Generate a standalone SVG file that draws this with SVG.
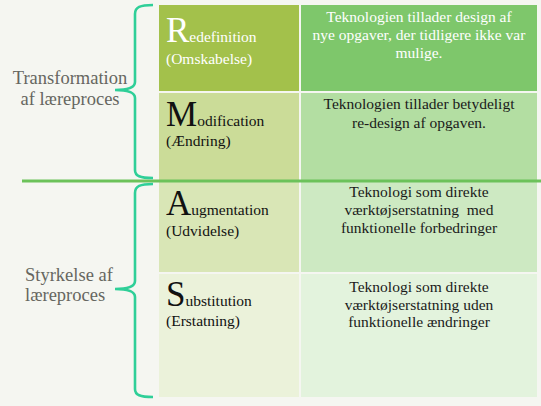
<svg xmlns="http://www.w3.org/2000/svg" width="541" height="406" viewBox="0 0 541 406">
<style>
text{font-family:'Liberation Serif','DejaVu Serif','Times New Roman',Times,serif}
.lbl{font-size:18.5px;fill:#666660}
.big{font-size:35px}
.sm{font-size:15.5px}
.desc{font-size:15.5px;text-anchor:middle;fill:#1a1a1a}
.brace{fill:none;stroke:#2fcf98;stroke-width:2.6}
</style>
<rect x="0" y="0" width="541" height="406" fill="#f5f6f1"/>
<g id="row-redefinition">
<rect x="159" y="5" width="140" height="86" fill="#a3c14b"/>
<rect x="301" y="5" width="236" height="86" fill="#7ec76b"/>
<text x="166" y="42" fill="#ffffff" font-family="Liberation Serif, serif"><tspan class="big">R</tspan><tspan class="sm">edefinition</tspan></text>
<text x="166" y="64" class="sm" fill="#ffffff" font-family="Liberation Serif, serif">(Omskabelse)</text>
<text class="desc" x="419" y="22" style="fill:#ffffff">Teknologien tillader design af</text>
<text class="desc" x="419" y="40" style="fill:#ffffff">nye opgaver, der tidligere ikke var</text>
<text class="desc" x="419" y="58" style="fill:#ffffff">mulige.</text>
</g>
<g id="row-modification">
<rect x="159" y="93" width="140" height="88" fill="#cbdc98"/>
<rect x="301" y="93" width="236" height="88" fill="#b3dea2"/>
<text x="166" y="126" fill="#111111"><tspan class="big">M</tspan><tspan class="sm">odification</tspan></text>
<text x="166" y="146" class="sm" fill="#111111">(Ændring)</text>
<text class="desc" x="419" y="109">Teknologien tillader betydeligt</text>
<text class="desc" x="419" y="128">re-design af opgaven.</text>
</g>
<g id="row-augmentation">
<rect x="159" y="182" width="140" height="90" fill="#d9e6b6"/>
<rect x="301" y="182" width="236" height="90" fill="#cde9c2"/>
<text x="166" y="215" fill="#111111"><tspan class="big">A</tspan><tspan class="sm">ugmentation</tspan></text>
<text x="166" y="236" class="sm" fill="#111111">(Udvidelse)</text>
<text class="desc" x="419" y="197">Teknologi som direkte</text>
<text class="desc" x="419" y="215" xml:space="preserve">værktøjserstatning  med</text>
<text class="desc" x="419" y="233">funktionelle forbedringer</text>
</g>
<g id="row-substitution">
<rect x="159" y="274" width="140" height="123" fill="#ebf2da"/>
<rect x="301" y="274" width="236" height="123" fill="#e3f3dd"/>
<text x="166" y="306" fill="#111111"><tspan class="big">S</tspan><tspan class="sm">ubstitution</tspan></text>
<text x="166" y="326" class="sm" fill="#111111">(Erstatning)</text>
<text class="desc" x="419" y="292">Teknologi som direkte</text>
<text class="desc" x="419" y="310">værktøjserstatning uden</text>
<text class="desc" x="419" y="327">funktionelle ændringer</text>
</g>
<g id="connectors">
<line x1="22" y1="181" x2="541" y2="181" stroke="#6cc25a" stroke-width="3"/>
<path class="brace" d="M153,5 C140,5 135,7 135,14 L135,82 C135,88 128,90 115,90 C128,90 135,92 135,98 L135,170 C135,176 140,178 153,178"/>
<path class="brace" d="M153,184 C140,184 135,186 135,193 L135,281 C135,287 128,289 115,289 C128,289 135,291 135,297 L135,389 C135,395 140,397 153,397"/>
</g>
<g id="label-transformation">
<text class="lbl" x="70" y="84" text-anchor="middle">Transformation</text>
<text class="lbl" x="70" y="105" text-anchor="middle">af læreproces</text>
</g>
<g id="label-styrkelse">
<text class="lbl" x="25" y="281">Styrkelse af</text>
<text class="lbl" x="25" y="301">læreproces</text>
</g>
</svg>
